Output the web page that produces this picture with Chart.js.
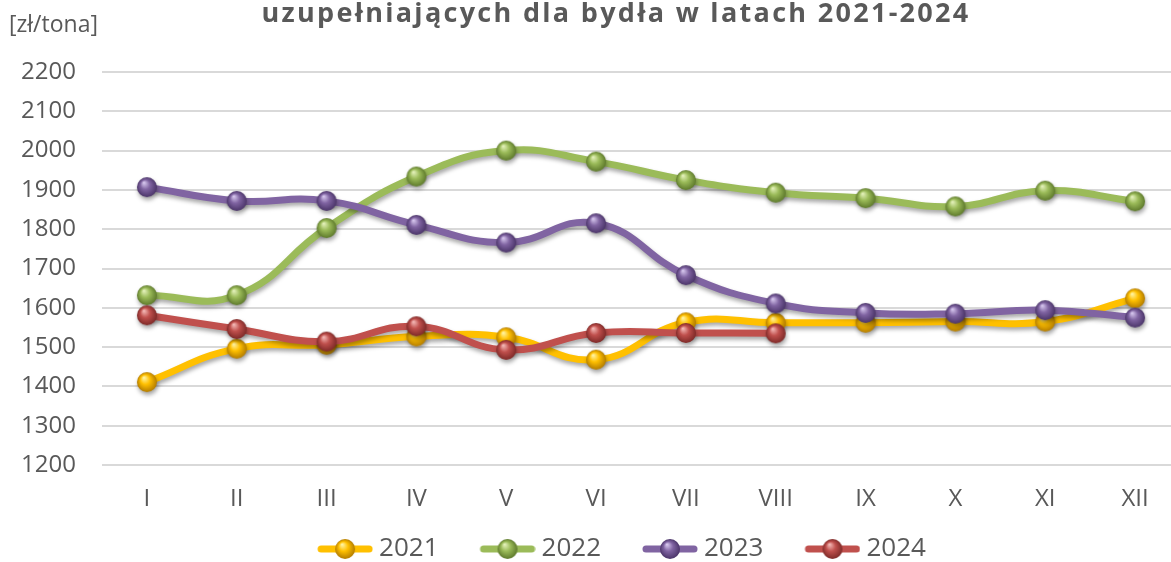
<!DOCTYPE html>
<html>
<head>
<meta charset="utf-8">
<script src="https://cdn.jsdelivr.net/npm/chart.js@4.4.1/dist/chart.umd.min.js"></script>
<style>
  html, body { margin: 0; padding: 0; background: #fff; overflow: hidden; }
  #wrap { width: 1180px; height: 562px; }
</style>
</head>
<body>
<div id="wrap"><canvas id="chart" width="1180" height="562"></canvas></div>
<script>
// dane
const months = ['I', 'II', 'III', 'IV', 'V', 'VI', 'VII', 'VIII', 'IX', 'X', 'XI', 'XII'];
const seriesNames = ['2021', '2022', '2023', '2024'];
const y2021 = [1411, 1496, 1506, 1527, 1525, 1468, 1563, 1562, 1562, 1565, 1565, 1624];
const y2022 = [1632, 1632, 1803, 1934, 2000, 1972, 1925, 1893, 1879, 1858, 1898, 1871];
const y2023 = [1907, 1872, 1872, 1811, 1766, 1815, 1683, 1611, 1587, 1585, 1594, 1575];
const y2024 = [1581, 1546, 1514, 1553, 1493, 1536, 1536, 1535];
const yMin = 1200, yMax = 2200, yStep = 100;
const titleText = 'uzupełniających dla bydła w latach 2021-2024';
const unitText = '[zł/tona]';

// kolory
const lineColors = ['#FFC000', '#9BBB59', '#8064A2', '#C0504D'];
const lightColors = ['#FFF3A0', '#E2F0B8', '#D4C4EC', '#F2B6B3'];
const darkColors = ['#B37C00', '#5E7A2C', '#4B3569', '#7E2A28'];
const textColor = '#595959';

function sphere(i, r) {
    const c = document.createElement('canvas');
    c.width = c.height = r * 2 + 2;
    const g = c.getContext('2d');
    const cx = r + 1, cy = r + 1;
    const grad = g.createRadialGradient(cx - r * 0.3, cy - r * 0.45, r * 0.05, cx, cy, r);
    grad.addColorStop(0, lightColors[i]);
    grad.addColorStop(0.45, lineColors[i]);
    grad.addColorStop(1, darkColors[i]);
    g.fillStyle = grad;
    g.beginPath();
    g.arc(cx, cy, r, 0, Math.PI * 2);
    g.fill();
    return c;
}

// ikona legendy: linia + kulka, dosunięta do prawej (lewa część przezroczysta)
function legendIcon(i) {
    const c = document.createElement('canvas');
    c.width = 82; c.height = 24;
    const g = c.getContext('2d');
    const x0 = 26;
    g.strokeStyle = lineColors[i];
    g.lineWidth = 7;
    g.lineCap = 'round';
    g.beginPath();
    g.moveTo(x0 + 4, 12);
    g.lineTo(x0 + 52, 12);
    g.stroke();
    g.drawImage(sphere(i, 10), x0 + 28 - 11, 1);
    return c;
}

const allData = [y2021, y2022, y2023, y2024];
const markers = lineColors.map((c, i) => sphere(i, 10));
const legendIcons = lineColors.map((c, i) => legendIcon(i));

const datasets = allData.map(function(d, i) {
    return {
        label: seriesNames[i],
        data: d,
        borderColor: lineColors[i],
        backgroundColor: lineColors[i],
        borderWidth: 7,
        tension: 0.45,
        pointStyle: markers[i],
        pointRadius: 10,
        order: 4 - i,
        fill: false
    };
});

// cienie pod liniami
const shadowPlugin = {
    id: 'shadow',
    beforeDatasetDraw(chart) {
        const ctx = chart.ctx;
        ctx.save();
        ctx.shadowColor = 'rgba(0,0,0,0.35)';
        ctx.shadowBlur = 4;
        ctx.shadowOffsetX = 1;
        ctx.shadowOffsetY = 3;
    },
    afterDatasetDraw(chart) {
        chart.ctx.restore();
    }
};

const textPlugin = {
    id: 'texts',
    afterLayout(chart) {
        // przesunięcie legendy jak w oryginale
        chart.legend.left += 22;
        chart.legend.right += 22;
    },
    afterDraw(chart) {
        const ctx = chart.ctx;
        ctx.save();
        ctx.fillStyle = textColor;
        ctx.font = 'bold 27px "Open Sans"';
        ctx.letterSpacing = '2.3px';
        ctx.textAlign = 'center';
        ctx.textBaseline = 'alphabetic';
        ctx.fillText(titleText, 616, 22);
        ctx.letterSpacing = '0px';
        ctx.font = '23px "Open Sans"';
        ctx.textAlign = 'left';
        ctx.textBaseline = 'middle';
        ctx.fillText(unitText, 9, 25);
        ctx.restore();
    }
};

const ctx = document.getElementById('chart').getContext('2d');
const chart = new Chart(ctx, {
    type: 'line',
    data: { labels: months, datasets: datasets },
    plugins: [shadowPlugin, textPlugin],
    options: {
        responsive: false,
        animation: false,
        layout: { autoPadding: false, padding: { top: 72, left: 0, right: 0, bottom: 0 } },
        plugins: {
            tooltip: { enabled: false },
            legend: {
                position: 'bottom',
                maxHeight: 48,
                labels: {
                    usePointStyle: true,
                    pointStyleWidth: 68,
                    padding: 22,
                    color: textColor,
                    font: { family: 'Open Sans', size: 26 },
                    generateLabels: function(chart) {
                        const items = Chart.defaults.plugins.legend.labels.generateLabels(chart);
                        items.forEach(function(it) { it.pointStyle = legendIcons[it.datasetIndex]; });
                        return items;
                    },
                    sort: function(a, b) { return a.datasetIndex - b.datasetIndex; }
                }
            }
        },
        scales: {
            x: {
                offset: true,
                grid: { display: false, drawTicks: false },
                border: { display: false },
                ticks: {
                    color: textColor,
                    padding: 20,
                    maxRotation: 0,
                    autoSkip: false,
                    font: { family: 'Open Sans', size: 24 }
                },
                afterFit: function(scale) { scale.height = 49; }
            },
            y: {
                min: yMin,
                max: yMax,
                border: { display: false },
                grid: { color: '#D9D9D9', lineWidth: 2, drawTicks: false },
                ticks: {
                    stepSize: yStep,
                    color: textColor,
                    padding: 26,
                    font: { family: 'Open Sans', size: 24 },
                    callback: function(v) { return String(v); }
                },
                afterFit: function(scale) { scale.width = 102; }
            }
        }
    }
});
</script>
</body>
</html>
